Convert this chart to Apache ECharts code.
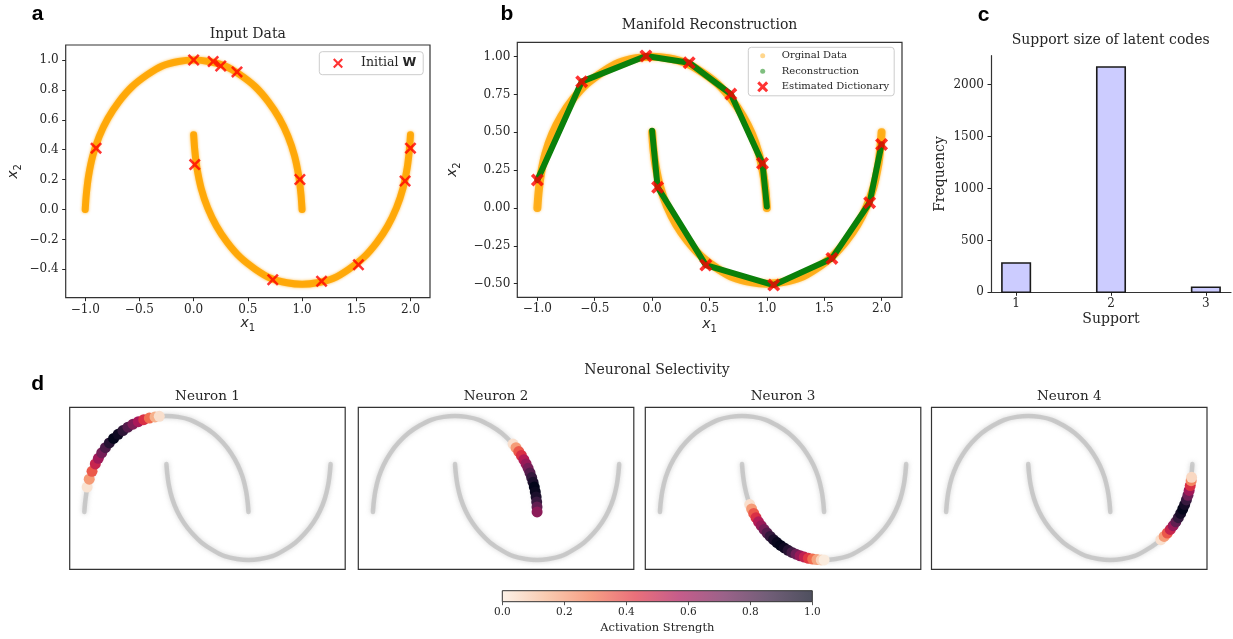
<!DOCTYPE html>
<html>
<head>
<meta charset="utf-8">
<title>Dictionary learning on two moons</title>
<script src="https://cdn.jsdelivr.net/npm/echarts@6/dist/echarts.min.js"></script>
<style>
  html, body { margin: 0; padding: 0; background: #ffffff; }
  #main { width: 1233px; height: 639px; }
</style>
</head>
<body>
<div id="main"></div>
<script>
// ---------- data ----------
// centre lines of the two moons (x1, x2)
const upperMoon = [
  [-1.00, 0.00], [-0.99, 0.10], [-0.97, 0.22], [-0.93, 0.36], [-0.87, 0.49], [-0.79, 0.61],
  [-0.69, 0.72], [-0.57, 0.82], [-0.43, 0.90], [-0.29, 0.96], [-0.14, 0.99], [0.00, 1.00],
  [0.14, 0.99], [0.29, 0.96], [0.43, 0.90], [0.57, 0.82], [0.69, 0.72], [0.79, 0.61],
  [0.87, 0.49], [0.93, 0.36], [0.97, 0.22], [0.99, 0.10], [1.00, 0.00]
];
const lowerMoon = [
  [0.00, 0.50], [0.01, 0.40], [0.03, 0.28], [0.07, 0.14], [0.13, 0.01], [0.21, -0.11],
  [0.31, -0.22], [0.43, -0.32], [0.57, -0.40], [0.71, -0.46], [0.86, -0.49], [1.00, -0.50],
  [1.14, -0.49], [1.29, -0.46], [1.43, -0.40], [1.57, -0.32], [1.69, -0.22], [1.79, -0.11],
  [1.87, 0.01], [1.93, 0.14], [1.97, 0.28], [1.99, 0.40], [2.00, 0.50]
];

// initial dictionary atoms
const initialW = [
  [0.00, 1.00], [0.18, 0.99], [0.25, 0.96], [0.40, 0.92], [-0.90, 0.41], [0.01, 0.30],
  [0.98, 0.20], [2.00, 0.41], [1.95, 0.19], [0.73, -0.47], [1.18, -0.48], [1.52, -0.37]
];

// learned dictionary atoms
const estimatedDictionary = [
  [-1.00, 0.185], [-0.614, 0.835], [-0.054, 1.005], [0.323, 0.96], [0.686, 0.753], [0.962, 0.295],
  [0.048, 0.137], [0.468, -0.377], [1.06, -0.509], [1.567, -0.333], [1.896, 0.035], [2.00, 0.42]
];

// reconstructed manifold (piecewise linear between atoms)
const reconUpper = [
  [-1.00, 0.185], [-0.614, 0.835], [-0.054, 1.005], [0.323, 0.96], [0.686, 0.753], [0.962, 0.295], [1.00, 0.01]
];
const reconLower = [
  [0.00, 0.51], [0.048, 0.137], [0.468, -0.377], [1.06, -0.509], [1.567, -0.333], [1.896, 0.035], [2.00, 0.42]
];

// histogram of latent-code support sizes
const supportSizes = [1, 2, 3];
const supportCounts = [282, 2170, 48];

// per-neuron activation along the manifold: [x1, x2, activation]
const neuron1 = [
  [-0.966, 0.259, 0.02], [-0.940, 0.342, 0.20], [-0.906, 0.423, 0.35], [-0.866, 0.500, 0.50],
  [-0.829, 0.559, 0.60], [-0.788, 0.616, 0.70], [-0.743, 0.669, 0.80], [-0.695, 0.719, 0.90],
  [-0.643, 0.766, 1.00], [-0.588, 0.809, 0.97], [-0.530, 0.848, 0.88], [-0.469, 0.883, 0.78],
  [-0.407, 0.914, 0.68], [-0.342, 0.940, 0.58], [-0.276, 0.961, 0.45], [-0.208, 0.978, 0.30],
  [-0.139, 0.990, 0.15], [-0.087, 0.996, 0.03]
];
const neuron2 = [
  [0.707, 0.707, 0.03], [0.743, 0.669, 0.20], [0.777, 0.629, 0.35], [0.809, 0.588, 0.45],
  [0.839, 0.545, 0.55], [0.866, 0.500, 0.62], [0.891, 0.454, 0.70], [0.914, 0.407, 0.78],
  [0.934, 0.358, 0.86], [0.951, 0.309, 0.93], [0.966, 0.259, 1.00], [0.978, 0.208, 0.98],
  [0.988, 0.156, 0.93], [0.995, 0.105, 0.85], [0.999, 0.052, 0.75], [1.000, 0.000, 0.65]
];
const neuron3 = [
  [0.094, 0.077, 0.03], [0.117, 0.031, 0.20], [0.143, -0.015, 0.35], [0.171, -0.059, 0.45],
  [0.201, -0.102, 0.55], [0.234, -0.143, 0.62], [0.269, -0.182, 0.70], [0.305, -0.219, 0.78],
  [0.344, -0.255, 0.86], [0.384, -0.288, 0.93], [0.426, -0.319, 0.98], [0.470, -0.348, 1.00],
  [0.515, -0.375, 0.97], [0.562, -0.399, 0.90], [0.609, -0.421, 0.82], [0.658, -0.440, 0.72],
  [0.708, -0.456, 0.62], [0.758, -0.470, 0.52], [0.809, -0.482, 0.42], [0.861, -0.490, 0.30],
  [0.913, -0.496, 0.18], [0.965, -0.499, 0.06], [1.000, -0.500, 0.00]
];
const neuron4 = [
  [1.616, -0.288, 0.03], [1.656, -0.255, 0.20], [1.695, -0.219, 0.35], [1.731, -0.182, 0.50],
  [1.766, -0.143, 0.62], [1.799, -0.102, 0.75], [1.829, -0.059, 0.86], [1.857, -0.015, 0.95],
  [1.883, 0.031, 1.00], [1.906, 0.077, 0.95], [1.927, 0.125, 0.85], [1.946, 0.174, 0.72],
  [1.961, 0.224, 0.60], [1.974, 0.275, 0.45], [1.985, 0.326, 0.25], [1.990, 0.361, 0.05]
];
const neurons = [neuron1, neuron2, neuron3, neuron4];
const neuronTitles = ['Neuron 1', 'Neuron 2', 'Neuron 3', 'Neuron 4'];

// tick positions
const xTicksAB = [-1.0, -0.5, 0.0, 0.5, 1.0, 1.5, 2.0];
const yTicksA = [-0.4, -0.2, 0.0, 0.2, 0.4, 0.6, 0.8, 1.0];
const yTicksB = [-0.5, -0.25, 0.0, 0.25, 0.5, 0.75, 1.0];
const xTicksC = [1, 2, 3];
const yTicksC = [0, 500, 1000, 1500, 2000];
const cbarTicks = [0.0, 0.2, 0.4, 0.6, 0.8, 1.0];
const activationRange = [0, 1];

// reversed "rocket" colour ramp, evenly spaced stops
const rocketR = ['#faebdd', '#f6b48f', '#f37651', '#e13342', '#ad1759', '#701f57', '#35193e', '#03051a'];

// ---------- styling ----------
const SERIF = 'DejaVu Serif';
const SANS = 'Liberation Sans';
const INK = '#262626';
const FRAME = '#333333';

const X_THIN = 'path://M0,1.5L1.5,0L5,3.5L8.5,0L10,1.5L6.5,5L10,8.5L8.5,10L5,6.5L1.5,10L0,8.5L3.5,5Z';
const X_BOLD = 'path://M0,2L2,0L5,3L8,0L10,2L7,5L10,8L8,10L5,7L2,10L0,8L3,5Z';
const LEG_X_A = 'path://M0,0M30,12M7,2.5L8.5,1L12,4.5L15.5,1L17,2.5L13.5,6L17,9.5L15.5,11L12,7.5L8.5,11L7,9.5L10.5,6Z';
const LEG_DOT_B = 'path://M0,0M24,12M7.5,6A2.5,2.5,0,1,1,12.5,6A2.5,2.5,0,1,1,7.5,6Z';
const LEG_X_B = 'path://M0,0M24,12M4.5,2.6L6.6,0.5L10,3.9L13.4,0.5L15.5,2.6L12.1,6L15.5,9.4L13.4,11.5L10,8.1L6.6,11.5L4.5,9.4L7.9,6Z';

function fmt(dec) {
  return function (v) { return (v < 0 ? '\u2212' : '') + Math.abs(v).toFixed(dec); };
}

function valueAxis(gridIndex, lim, ticks, dec, isY, extra) {
  const ax = {
    type: 'value', gridIndex: gridIndex, min: lim[0], max: lim[1],
    splitLine: { show: false }, splitArea: { show: false },
    axisLine: { show: false, onZero: false },
    axisTick: { show: false },
    axisLabel: { show: false }
  };
  if (ticks) {
    ax.axisTick = { show: true, inside: false, length: 3.5, lineStyle: { color: INK, width: 1 }, customValues: ticks };
    ax.axisLabel = { show: true, margin: isY ? 7 : 6, color: INK, fontFamily: SERIF, fontSize: 12,
                     customValues: ticks, formatter: fmt(dec) };
  }
  return Object.assign(ax, extra || {});
}

const subName = function (sub) { return '{i|x}{s|' + sub + '}'; };
const nameRich = {
  i: { fontFamily: 'DejaVu Sans', fontStyle: 'italic', fontSize: 14, color: INK, padding: [0, 0, 3, 0] },
  s: { fontFamily: 'DejaVu Sans', fontSize: 10, color: INK, padding: [7, 0, 0, 0] }
};

// ---------- layout ----------
const limAx = [-1.18, 2.18], limAy = [-0.59, 1.10];
const limBx = [-1.175, 2.178], limBy = [-0.59, 1.095];
const limDx = [-1.178, 2.178], limDy = [-0.597, 1.09];
const panelDLeft = [69.7, 358.3, 645.3, 931.5];
const panelDWidth = 275.5;

const grids = [
  { left: 65.7, top: 45, width: 364.3, height: 252.7, show: true, borderColor: FRAME, borderWidth: 1.2 },
  { left: 517.3, top: 42.3, width: 384.7, height: 255, show: true, borderColor: FRAME, borderWidth: 1.2 },
  { left: 991, top: 55.7, width: 240, height: 236.6, show: false }
];
panelDLeft.forEach(function (l) {
  grids.push({ left: l, top: 407.3, width: panelDWidth, height: 162, show: true, borderColor: FRAME, borderWidth: 1.2 });
});
grids.push({ left: 502.3, top: 590.7, width: 310, height: 11, show: false });
grids.forEach(function (g) { g.containLabel = false; g.outerBoundsMode = 'none'; });

const xAxes = [
  valueAxis(0, limAx, xTicksAB, 1, false, { name: subName('1'), nameLocation: 'middle', nameGap: 19, nameTextStyle: { rich: nameRich } }),
  valueAxis(1, limBx, xTicksAB, 1, false, { name: subName('1'), nameLocation: 'middle', nameGap: 20, nameTextStyle: { rich: nameRich } }),
  valueAxis(2, [0.735, 3.265], xTicksC, 0, false, {
    axisLine: { show: true, onZero: false, lineStyle: { color: FRAME, width: 1.2 } },
    name: 'Support', nameLocation: 'middle', nameGap: 20,
    nameTextStyle: { fontFamily: SERIF, fontSize: 14, color: INK }
  })
];
const yAxes = [
  valueAxis(0, limAy, yTicksA, 1, true, { name: subName('2'), nameLocation: 'middle', nameGap: 42, nameTextStyle: { rich: nameRich } }),
  valueAxis(1, limBy, yTicksB, 2, true, { name: subName('2'), nameLocation: 'middle', nameGap: 55, nameTextStyle: { rich: nameRich } }),
  valueAxis(2, [0, 2279], yTicksC, 0, true, {
    axisLine: { show: true, onZero: false, lineStyle: { color: FRAME, width: 1.2 } },
    name: 'Frequency', nameLocation: 'middle', nameGap: 44,
    nameTextStyle: { fontFamily: SERIF, fontSize: 14, color: INK }
  })
];
for (let k = 0; k < 4; k++) {
  xAxes.push(valueAxis(3 + k, limDx, null, 0, false, { show: false }));
  yAxes.push(valueAxis(3 + k, limDy, null, 0, true, { show: false }));
}
const cbarX = valueAxis(7, activationRange, cbarTicks, 1, false, {
  name: 'Activation Strength', nameLocation: 'middle', nameGap: 20,
  nameTextStyle: { fontFamily: SERIF, fontSize: 11.5, color: INK }
});
cbarX.axisLabel.fontSize = 10.5;
cbarX.axisLabel.margin = 5;
cbarX.axisTick.lineStyle.color = '#555555';
xAxes.push(cbarX);
yAxes.push(valueAxis(7, activationRange, null, 0, true, { show: false }));

// ---------- series ----------
const series = [];
function band(grid, pts, color, width, opacity, name, blur, shadow, z) {
  series.push({
    type: 'line', name: name, xAxisIndex: grid, yAxisIndex: grid, data: pts,
    showSymbol: false, symbol: 'none', smooth: 0.2, silent: true, z: z || 2,
    lineStyle: { color: color, width: width, opacity: opacity, cap: 'round', join: 'round',
                 shadowBlur: blur, shadowColor: shadow || color }
  });
}

// panel a
band(0, upperMoon, '#ffa500', 7, 0.9, 'Input', 3, 'rgba(255,165,0,0.8)');
band(0, lowerMoon, '#ffa500', 7, 0.9, 'Input', 3, 'rgba(255,165,0,0.8)');
series.push({
  type: 'scatter', name: 'Initial W', xAxisIndex: 0, yAxisIndex: 0, data: initialW,
  symbol: X_THIN, symbolSize: 12, itemStyle: { color: '#ff0000' }, silent: true, z: 5
});

// panel b
band(1, upperMoon, '#ffa500', 8, 0.8, 'Orginal Data', 3, 'rgba(255,165,0,0.7)');
band(1, lowerMoon, '#ffa500', 8, 0.8, 'Orginal Data', 3, 'rgba(255,165,0,0.7)');
band(1, reconUpper, '#0a800a', 6, 1, 'Reconstruction', 0, null, 3);
band(1, reconLower, '#0a800a', 6, 1, 'Reconstruction', 0, null, 3);
series[series.length - 1].smooth = false;
series[series.length - 2].smooth = false;
series.push({
  type: 'scatter', name: 'Estimated Dictionary', xAxisIndex: 1, yAxisIndex: 1, data: estimatedDictionary,
  symbol: X_BOLD, symbolSize: 13, itemStyle: { color: '#ff0000' }, silent: true, z: 5
});

// panel c: histogram bars of width 0.3 centred on each support size
const BAR_HALF = 0.15;
series.push({
  type: 'custom', xAxisIndex: 2, yAxisIndex: 2, silent: true,
  data: supportSizes.map(function (s, i) { return [s, supportCounts[i]]; }),
  renderItem: function (params, api) {
    const x = api.value(0), y = api.value(1);
    const p0 = api.coord([x - BAR_HALF, 0]);
    const p1 = api.coord([x + BAR_HALF, y]);
    return {
      type: 'rect',
      shape: { x: p0[0], y: p1[1], width: p1[0] - p0[0], height: p0[1] - p1[1] },
      style: { fill: '#ccccff', stroke: '#1a1a1a', lineWidth: 1.6 }
    };
  }
});

// panel d: blurred grey manifold + coloured selectivity
for (let k = 0; k < 4; k++) {
  band(3 + k, upperMoon, 'rgba(170,170,170,0.5)', 4.5, 1, '', 5, 'rgba(165,165,165,0.9)');
  band(3 + k, lowerMoon, 'rgba(170,170,170,0.5)', 4.5, 1, '', 5, 'rgba(165,165,165,0.9)');
}
const arcSeriesIdx = [];
neurons.forEach(function (pts, k) {
  arcSeriesIdx.push(series.length);
  series.push({
    type: 'scatter', xAxisIndex: 3 + k, yAxisIndex: 3 + k, data: pts,
    symbol: 'circle', symbolSize: 11, itemStyle: { opacity: 1 }, silent: true, z: 4
  });
});

// colour bar
const cbarStops = rocketR.map(function (c, i) { return { offset: i / (rocketR.length - 1), color: c }; });
series.push({
  type: 'custom', xAxisIndex: 7, yAxisIndex: 7, silent: true,
  data: [[activationRange[0], activationRange[1]]],
  renderItem: function (params, api) {
    const a = api.coord([api.value(0), 0]);
    const b = api.coord([api.value(1), 1]);
    const shape = { x: a[0], y: b[1], width: b[0] - a[0], height: a[1] - b[1] };
    return {
      type: 'group',
      children: [
        { type: 'rect', shape: shape, style: { fill: new echarts.graphic.LinearGradient(0, 0, 1, 0, cbarStops), opacity: 0.7 } },
        { type: 'rect', shape: shape, style: { fill: 'none', stroke: '#333333', lineWidth: 1 } }
      ]
    };
  }
});

// ---------- text ----------
function label(txt, x, y, size, opts) {
  return Object.assign({
    type: 'text', x: x, y: y, silent: true, z: 10,
    style: { text: txt, fill: INK, font: 'normal ' + size + 'px "' + SERIF + '"',
             align: 'center', verticalAlign: 'middle', textAlign: 'center', textVerticalAlign: 'middle' }
  }, opts || {});
}
function letter(txt, x, y) {
  const t = label(txt, x, y, 21);
  t.style.font = 'bold 21px "' + SANS + '"';
  t.style.fill = '#000000';
  return t;
}
const graphics = [
  letter('a', 37.5, 14.5), letter('b', 507, 14), letter('c', 983.5, 15.5), letter('d', 37.7, 384),
  label('Input Data', 247.8, 34.3, 14),
  label('Manifold Reconstruction', 709.5, 25.7, 14),
  label('Support size of latent codes', 1110.7, 40.7, 14),
  label('Neuronal Selectivity', 657, 370, 14)
];
neuronTitles.forEach(function (t, k) {
  graphics.push(label(t, panelDLeft[k] + panelDWidth / 2, 396.5, 13.5));
});

// ---------- chart ----------
const chart = echarts.init(document.getElementById('main'), null, { renderer: 'canvas' });
chart.setOption({
  animation: false,
  backgroundColor: '#ffffff',
  textStyle: { fontFamily: SERIF },
  grid: grids,
  xAxis: xAxes,
  yAxis: yAxes,
  visualMap: [{
    type: 'continuous', show: false, min: activationRange[0], max: activationRange[1],
    dimension: 2, seriesIndex: arcSeriesIdx, inRange: { color: rocketR }
  }],
  legend: [
    {
      left: 319.3, top: 51.7, orient: 'vertical', selectedMode: false,
      data: [{ name: 'Initial W', icon: LEG_X_A }],
      itemWidth: 30, itemHeight: 12, itemGap: 4,
      padding: [5, 7, 5, 6.7],
      borderColor: '#cccccc', borderWidth: 1, borderRadius: 3, backgroundColor: 'rgba(255,255,255,0.8)',
      formatter: function (n) { return n === 'Initial W' ? 'Initial {w|W}' : n; },
      textStyle: { fontFamily: SERIF, fontSize: 12.5, color: INK,
                   rich: { w: { fontFamily: 'DejaVu Sans', fontWeight: 'bold', fontSize: 12.5, color: INK } } }
    },
    {
      left: 748.3, top: 47.3, orient: 'vertical', selectedMode: false,
      data: [
        { name: 'Orginal Data', icon: LEG_DOT_B, itemStyle: { color: 'rgba(255,165,0,0.45)' } },
        { name: 'Reconstruction', icon: LEG_DOT_B, itemStyle: { color: 'rgba(0,128,0,0.5)' } },
        { name: 'Estimated Dictionary', icon: LEG_X_B, itemStyle: { color: '#ff0000' } }
      ],
      itemWidth: 24, itemHeight: 12, itemGap: 3.5,
      padding: [2.5, 5, 3, 4.4],
      borderColor: '#cccccc', borderWidth: 1, borderRadius: 3, backgroundColor: 'rgba(255,255,255,0.8)',
      textStyle: { fontFamily: SERIF, fontSize: 10, color: INK }
    }
  ],
  graphic: graphics,
  series: series
});
</script>
</body>
</html>
